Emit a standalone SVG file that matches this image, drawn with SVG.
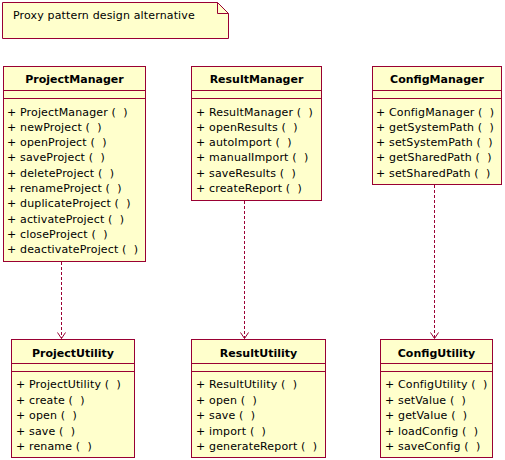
<svg xmlns="http://www.w3.org/2000/svg" width="505" height="460" viewBox="0 0 505 460">
<defs>
<style>
.box{fill:#FFFFCC;stroke:#990033;stroke-width:1}
.ln{stroke:#990033;stroke-width:1;fill:none}
.t{font-family:"DejaVu Sans",sans-serif;font-size:11px;fill:#000;white-space:pre;letter-spacing:0.15px}
.h{font-family:"DejaVu Sans",sans-serif;font-size:11px;font-weight:bold;fill:#000;text-anchor:middle}
.dep{stroke:#990033;stroke-width:1;fill:none;stroke-dasharray:3,2}
</style>
</defs>
<rect width="505" height="460" fill="#fff"/>
<g id="note">
<path class="box" d="M2.5,2.5 H217.5 L228.5,13.5 V38.5 H2.5 Z"/>
<path class="ln" d="M217.5,2.5 V13.5 H228.5"/>
<text class="t" x="13" y="19">Proxy pattern design alternative</text>
</g>
<g id="connectors">
<line class="dep" x1="61.5" y1="262" x2="61.5" y2="338.5"/>
<line class="dep" x1="244.5" y1="201" x2="244.5" y2="338.5"/>
<line class="dep" x1="434.5" y1="185" x2="434.5" y2="338.5"/>
<path class="ln" d="M57.5,332.5 L61.5,338.5 L65.5,332.5"/>
<path class="ln" d="M240.5,332.5 L244.5,338.5 L248.5,332.5"/>
<path class="ln" d="M430.5,332.5 L434.5,338.5 L438.5,332.5"/>
</g>
<g id="ProjectManager">
<rect class="box" x="3.5" y="66.5" width="142" height="195"/>
<path class="ln" d="M3.5,90.5 H145.5 M3.5,98.5 H145.5"/>
<text class="h" x="74.5" y="83">ProjectManager</text>
<text class="t" x="7" y="115.5" xml:space="preserve">+ ProjectManager (  )</text>
<text class="t" x="7" y="130.8" xml:space="preserve">+ newProject (  )</text>
<text class="t" x="7" y="146.1" xml:space="preserve">+ openProject (  )</text>
<text class="t" x="7" y="161.4" xml:space="preserve">+ saveProject (  )</text>
<text class="t" x="7" y="176.7" xml:space="preserve">+ deleteProject (  )</text>
<text class="t" x="7" y="192" xml:space="preserve">+ renameProject (  )</text>
<text class="t" x="7" y="207.3" xml:space="preserve">+ duplicateProject (  )</text>
<text class="t" x="7" y="222.6" xml:space="preserve">+ activateProject (  )</text>
<text class="t" x="7" y="237.9" xml:space="preserve">+ closeProject (  )</text>
<text class="t" x="7" y="253.2" xml:space="preserve">+ deactivateProject (  )</text>
</g>
<g id="ResultManager">
<rect class="box" x="191.5" y="66.5" width="130" height="134"/>
<path class="ln" d="M191.5,90.5 H321.5 M191.5,98.5 H321.5"/>
<text class="h" x="256.5" y="83">ResultManager</text>
<text class="t" x="196" y="115.5" xml:space="preserve">+ ResultManager (  )</text>
<text class="t" x="196" y="130.8" xml:space="preserve">+ openResults (  )</text>
<text class="t" x="196" y="146.1" xml:space="preserve">+ autoImport (  )</text>
<text class="t" x="196" y="161.4" xml:space="preserve">+ manualImport (  )</text>
<text class="t" x="196" y="176.7" xml:space="preserve">+ saveResults (  )</text>
<text class="t" x="196" y="192" xml:space="preserve">+ createReport (  )</text>
</g>
<g id="ConfigManager">
<rect class="box" x="372.5" y="66.5" width="129" height="118"/>
<path class="ln" d="M372.5,90.5 H501.5 M372.5,98.5 H501.5"/>
<text class="h" x="437" y="83">ConfigManager</text>
<text class="t" x="376" y="115.5" xml:space="preserve">+ ConfigManager (  )</text>
<text class="t" x="376" y="130.8" xml:space="preserve">+ getSystemPath (  )</text>
<text class="t" x="376" y="146.1" xml:space="preserve">+ setSystemPath (  )</text>
<text class="t" x="376" y="161.4" xml:space="preserve">+ getSharedPath (  )</text>
<text class="t" x="376" y="176.7" xml:space="preserve">+ setSharedPath (  )</text>
</g>
<g id="ProjectUtility">
<rect class="box" x="11.5" y="339.5" width="123" height="118"/>
<path class="ln" d="M11.5,363.5 H134.5 M11.5,371.5 H134.5"/>
<text class="h" x="73" y="357">ProjectUtility</text>
<text class="t" x="16" y="388.3" xml:space="preserve">+ ProjectUtility (  )</text>
<text class="t" x="16" y="403.8" xml:space="preserve">+ create (  )</text>
<text class="t" x="16" y="419.3" xml:space="preserve">+ open (  )</text>
<text class="t" x="16" y="434.8" xml:space="preserve">+ save (  )</text>
<text class="t" x="16" y="450.3" xml:space="preserve">+ rename (  )</text>
</g>
<g id="ResultUtility">
<rect class="box" x="191.5" y="339.5" width="134" height="118"/>
<path class="ln" d="M191.5,363.5 H325.5 M191.5,371.5 H325.5"/>
<text class="h" x="258.5" y="357">ResultUtility</text>
<text class="t" x="196" y="388.3" xml:space="preserve">+ ResultUtility (  )</text>
<text class="t" x="196" y="403.8" xml:space="preserve">+ open (  )</text>
<text class="t" x="196" y="419.3" xml:space="preserve">+ save (  )</text>
<text class="t" x="196" y="434.8" xml:space="preserve">+ import (  )</text>
<text class="t" x="196" y="450.3" xml:space="preserve">+ generateReport (  )</text>
</g>
<g id="ConfigUtility">
<rect class="box" x="380.5" y="339.5" width="112" height="118"/>
<path class="ln" d="M380.5,363.5 H492.5 M380.5,371.5 H492.5"/>
<text class="h" x="436.5" y="357">ConfigUtility</text>
<text class="t" x="385" y="388.3" xml:space="preserve">+ ConfigUtility (  )</text>
<text class="t" x="385" y="403.8" xml:space="preserve">+ setValue (  )</text>
<text class="t" x="385" y="419.3" xml:space="preserve">+ getValue (  )</text>
<text class="t" x="385" y="434.8" xml:space="preserve">+ loadConfig (  )</text>
<text class="t" x="385" y="450.3" xml:space="preserve">+ saveConfig (  )</text>
</g>
</svg>
